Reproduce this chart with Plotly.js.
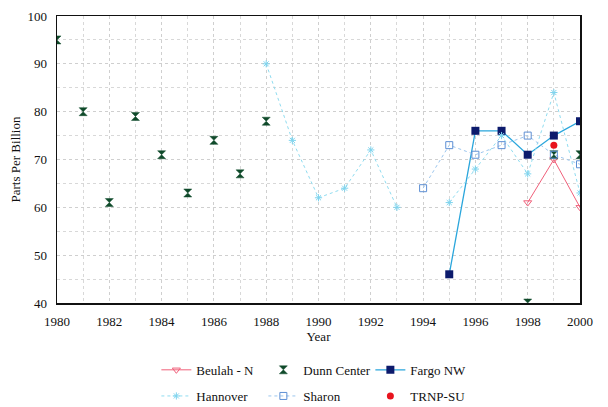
<!DOCTYPE html>
<html>
<head>
<meta charset="utf-8">
<script src="https://cdn.plot.ly/plotly-3.0.1.min.js"></script>
<style>html,body{margin:0;padding:0;background:#fff}#chart{width:608px;height:407px}</style>
</head>
<body>
<div id="chart"></div>
<script>
var years = [1980,1981,1982,1983,1984,1985,1986,1987,1988,1989,1990,1991,1992,1993,1994,1995,1996,1997,1998,1999,2000];
var beulah   = [null,null,null,null,null,null,null,null,null,null,null,null,null,null,null,null,null,null,61,70,60];
var dunn     = [95,80,61,79,71,63,74,67,78,null,null,null,null,null,null,null,null,null,40,71,71];
var fargo    = [null,null,null,null,null,null,null,null,null,null,null,null,null,null,null,46,76,76,71,75,78];
var hannover = [null,null,null,null,null,null,null,null,90,74,62,64,72,60,null,61,68,75,67,84,63];
var sharon   = [null,null,null,null,null,null,null,null,null,null,null,null,null,null,64,73,71,73,75,71,69];
var trnp     = [null,null,null,null,null,null,null,null,null,null,null,null,null,null,null,null,null,null,null,73,null];
var xTicks = [1980,1982,1984,1986,1988,1990,1992,1994,1996,1998,2000];

var font = 'Liberation Serif';
var traces = [
  {name:'Beulah - N', x:years, y:beulah, mode:'lines+markers', legend:'legend',
   line:{color:'#f0607a', width:1}, marker:{symbol:'triangle-down-open', size:7, color:'#f0607a', line:{width:1}}},
  {name:'Dunn Center', x:years, y:dunn, mode:'markers', legend:'legend',
   marker:{symbol:'hourglass', size:8, color:'#0f4a2a', line:{width:0.5, color:'#0f4a2a'}}},
  {name:'Fargo NW', x:years, y:fargo, mode:'lines+markers', legend:'legend',
   line:{color:'#2aa6dc', width:1.3}, marker:{symbol:'square', size:8, color:'#0c1a6c'}},
  {name:'Hannover', x:years, y:hannover, mode:'lines+markers', legend:'legend2',
   line:{color:'#8fdcf0', width:1, dash:'dot'}, marker:{symbol:'asterisk-open', size:6, color:'#7fd4ee', line:{width:1, color:'#7fd4ee'}}},
  {name:'Sharon', x:years, y:sharon, mode:'lines+markers', legend:'legend2',
   line:{color:'#9cc6ee', width:1, dash:'dot'}, marker:{symbol:'square-open', size:7, color:'#5d8fd4', line:{width:1}}},
  {name:'TRNP-SU', x:years, y:trnp, mode:'markers', legend:'legend2',
   marker:{symbol:'circle', size:7, color:'#e8141e'}}
];

var layout = {
  width:608, height:407,
  margin:{l:57, r:28, t:16, b:104, autoexpand:false},
  paper_bgcolor:'#fff', plot_bgcolor:'#fff',
  font:{family:font, size:12, color:'#111'},
  showlegend:true,
  xaxis:{range:[1980,2000], tickvals:xTicks, ticktext:xTicks.map(String), showline:true, mirror:true,
    linecolor:'#111', linewidth:1.5, ticks:'', ticklabelstandoff:6, showgrid:true, gridcolor:'#cfcfcf', griddash:'dot', gridwidth:1,
    minor:{dtick:1, tick0:1980, showgrid:true, gridcolor:'#d8d8d8', griddash:'dot', gridwidth:1},
    zeroline:false, automargin:false, tickfont:{family:'Liberation Serif', size:13, color:'#111'}, title:{text:'Year', font:{family:font, size:13}, standoff:0}},
  yaxis:{range:[40,100], dtick:10, tick0:40, showline:true, mirror:true, linecolor:'#111', linewidth:1.5,
    ticks:'', ticklabelstandoff:6, showgrid:true, gridcolor:'#cfcfcf', griddash:'dot', gridwidth:1,
    minor:{dtick:5, showgrid:true, gridcolor:'#d8d8d8', griddash:'dot', gridwidth:1},
    zeroline:false, automargin:false, tickfont:{family:'Liberation Serif', size:13, color:'#111'}, title:{text:'Parts Per Billion', font:{family:font, size:13}, standoff:4}},
  legend:{orientation:'h', x:0.19, xanchor:'left', y:-0.233, yanchor:'middle', entrywidth:62, entrywidthmode:'pixels',
    font:{family:font, size:13}, bgcolor:'rgba(0,0,0,0)', traceorder:'normal'},
  legend2:{orientation:'h', x:0.19, xanchor:'left', y:-0.324, yanchor:'middle', entrywidth:62, entrywidthmode:'pixels',
    font:{family:font, size:13}, bgcolor:'rgba(0,0,0,0)', traceorder:'normal'}
};
Plotly.newPlot('chart', traces, layout, {displayModeBar:false, staticPlot:true});
</script>
</body>
</html>
